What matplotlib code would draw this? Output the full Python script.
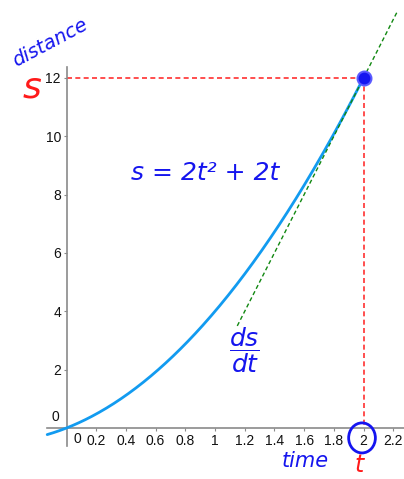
import numpy as np
import matplotlib
matplotlib.use('agg')
import matplotlib.pyplot as plt
from matplotlib.patches import Ellipse

# s = 2t^2 + 2t and its tangent at t = 2
coef_a = 2.0
coef_b = 2.0
t_point = 2.0
t_curve_start = -0.13
tangent_range = [1.15, 2.225]
x_ticks = [0.2, 0.4, 0.6, 0.8, 1, 1.2, 1.4, 1.6, 1.8, 2, 2.2]
x_tick_labels = ['0.2', '0.4', '0.6', '0.8', '1', '1.2', '1.4', '1.6', '1.8', '2', '2.2']
y_ticks = [2, 4, 6, 8, 10, 12]
y_tick_labels = ['2', '4', '6', '8', '10', '12']

W, H = 404, 479
plt.rcParams['font.family'] = ['Liberation Sans', 'DejaVu Sans']

fig = plt.figure(figsize=(W / 100, H / 100), dpi=100)
ax = fig.add_axes([0, 0, 1, 1])

# pixel-ish view window: 148.5 px per unit on t, 29.17 px per unit on s
x0_px, y0_px = 66.5, 428
px_t, px_s = 148.5, 29.17
ax.set_xlim(-x0_px / px_t, (W - x0_px) / px_t)
ax.set_ylim(-(H - y0_px) / px_s, y0_px / px_s)

def s_of(t):
    return coef_a * t ** 2 + coef_b * t

s_point = s_of(t_point)
slope = 2 * coef_a * t_point + coef_b

# axes through the origin
for side in ['top', 'right']:
    ax.spines[side].set_visible(False)
ax.spines['left'].set_position(('data', 0))
ax.spines['bottom'].set_position(('data', 0))
ax.spines['left'].set_bounds(-0.6, 12.38)
ax.spines['bottom'].set_bounds(-0.13, 2.27)
for side in ['left', 'bottom']:
    ax.spines[side].set_color('#8a8a8a')
    ax.spines[side].set_linewidth(1.2)

ax.set_xticks(x_ticks)
ax.set_xticklabels(x_tick_labels)
ax.set_yticks(y_ticks)
ax.set_yticklabels(y_tick_labels)
ax.tick_params(axis='both', direction='out', length=2, width=0.8, color='#8a8a8a',
               labelsize=10, labelcolor='#111111')
ax.tick_params(axis='x', pad=2.5)
ax.tick_params(axis='y', pad=2)
ax.text(0.045, -0.36, '0', fontsize=10, ha='left', va='center', color='#111111')
ax.text(-0.05, 0.15, '0', fontsize=10, ha='right', va='bottom', color='#111111')

# curve
t = np.linspace(t_curve_start, t_point, 300)
ax.plot(t, s_of(t), color='#129bf0', lw=2, solid_capstyle='round', zorder=3)

# tangent line at the point
tt = np.array(tangent_range)
ax.plot(tt, s_point + slope * (tt - t_point), color='#118811', lw=1,
        dashes=(3, 2), zorder=4)

# guide lines to the axes
ax.plot([0, t_point], [s_point, s_point], color='#ff3030', lw=1.2, dashes=(3, 2), zorder=2)
ax.plot([t_point, t_point], [s_point, 0], color='#ff3030', lw=1.2, dashes=(3, 2), zorder=2)

# point
ax.plot([t_point], [s_point], 'o', ms=10, color='#1515f0', mec='#5a5aff', mew=1.5, zorder=5)

# circle around the t = 2 label
ax.add_patch(Ellipse((1.99, -0.34), 0.18, 1.03, fill=False, ec='#1515f0', lw=2, zorder=5))

# handwritten notes
blue = '#1515ee'
red = '#ff1a1a'
hand = dict(family=['DejaVu Sans'], style='italic')

def fx(px):
    return px / W

def fy(py):
    return 1 - py / H

fig.text(fx(50), fy(43), 'distance', color=blue, fontsize=14, rotation=28,
         ha='center', va='center', **hand)
fig.text(fx(32), fy(88), 's', color=red, fontsize=26, ha='center', va='center', **hand)
fig.text(fx(205), fy(173), 's = 2t² + 2t', color=blue, fontsize=18,
         ha='center', va='center', **hand)
fig.text(fx(244), fy(350), r'$\dfrac{ds}{dt}$', color=blue, fontsize=18,
         ha='center', va='center')
fig.text(fx(305), fy(461), 'time', color=blue, fontsize=15, ha='center', va='center', **hand)
fig.text(fx(359), fy(465), 't', color=red, fontsize=17, ha='center', va='center', **hand)

fig.savefig('out.png', dpi=100)
